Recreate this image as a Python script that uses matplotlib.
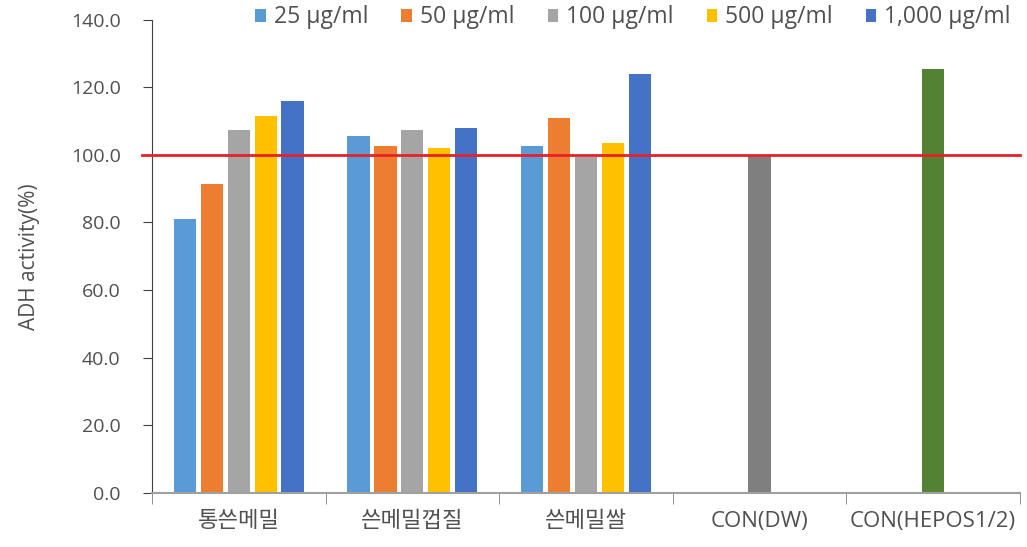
import matplotlib.pyplot as plt
import numpy as np

plt.rcParams['font.family'] = ['Open Sans', 'Noto Sans CJK KR', 'DejaVu Sans']

categories = ['통쓴메밀', '쓴메밀껍질', '쓴메밀쌀', 'CON(DW)', 'CON(HEPOS1/2)']
doses = ['25 μg/ml', '50 μg/ml', '100 μg/ml', '500 μg/ml', '1,000 μg/ml']
# values for the three sample groups, one list per dose
dose_values = [
    [81.0, 105.5, 102.5],
    [91.5, 102.5, 111.0],
    [107.5, 107.5, 99.5],
    [111.5, 102.0, 103.5],
    [116.0, 108.0, 124.0],
]
con_dw = 100.0
con_hepos = 125.5

colors = ['#5B9BD5', '#ED7D31', '#A5A5A5', '#FFC000', '#4472C4']

fig = plt.figure(figsize=(10.27, 5.47), dpi=100)
ax = fig.add_axes([0.148, 0.099, 0.845, 0.865])

x = np.arange(len(categories))
step = 0.155
width = 0.128
for i, (lab, vals) in enumerate(zip(doses, dose_values)):
    ax.bar(x[:3] + (i - 2) * step, vals, width=width, color=colors[i], label=lab)

ax.bar(x[3], con_dw, width=width, color='#7F7F7F')
ax.bar(x[4], con_hepos, width=width, color='#548235')

ax.axhline(100, xmin=-0.012, xmax=1, color='#E8202A', lw=2, clip_on=False, zorder=5)

txt = '#505050'
ax.set_xlim(-0.5, 4.5)
ax.set_ylim(0, 140)
ax.set_yticks(np.arange(0, 141, 20))
ax.set_yticklabels([f'{v:.1f}' for v in np.arange(0, 141, 20)], fontsize=14, color=txt)
ax.set_xticks(x)
ax.set_xticklabels(categories, fontsize=16, color=txt)
ax.set_xticks(np.arange(-0.5, 4.6, 1), minor=True)
ax.tick_params(axis='x', which='major', length=0, pad=13)
ax.tick_params(axis='x', which='minor', length=8, color='#808080')
ax.tick_params(axis='y', length=6.5, color='#404040', direction='out', pad=16)

ax.spines['top'].set_visible(False)
ax.spines['right'].set_visible(False)
ax.spines['left'].set_color('#404040')
ax.spines['bottom'].set_color('#A0A0A0')
ax.spines['bottom'].set_linewidth(1.5)

ax.set_ylabel('ADH activity(%)', fontsize=15, color=txt, labelpad=22)

leg = ax.legend(loc='upper right', bbox_to_anchor=(1.0, 1.05), ncol=5, frameon=False,
                fontsize=16.5, handlelength=0.45, handleheight=0.5, handletextpad=0.35,
                columnspacing=1.45, borderaxespad=0)
for t in leg.get_texts():
    t.set_color(txt)

fig.savefig('out.png', dpi=100)
